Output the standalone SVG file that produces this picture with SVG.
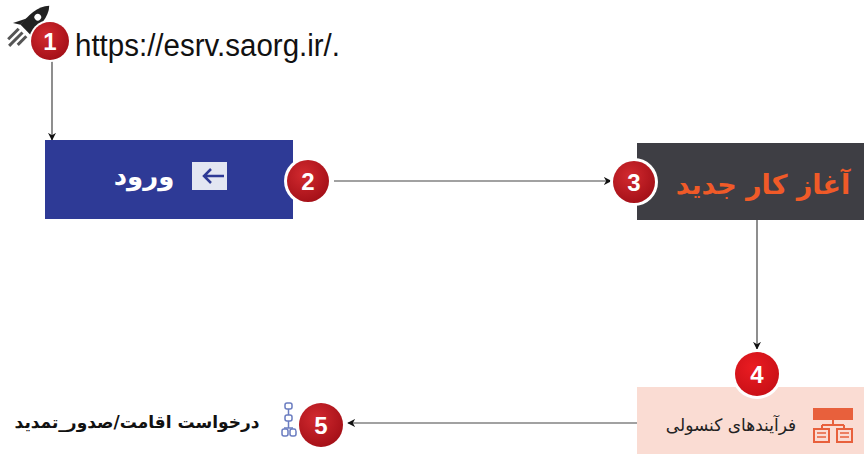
<svg xmlns="http://www.w3.org/2000/svg" width="864" height="464" viewBox="0 0 864 464">
<style>
.conn{stroke:#444;stroke-width:1.2;fill:none}
.num{font-family:"Liberation Sans",Arial,sans-serif;font-weight:bold;font-size:24px;fill:#fff;text-anchor:middle}
.ar{font-family:"DejaVu Sans",sans-serif;text-anchor:middle}
</style>
<defs>
<marker id="ah" viewBox="0 0 10 10" refX="9" refY="5" markerWidth="8" markerHeight="8" orient="auto" markerUnits="userSpaceOnUse">
<path d="M0,0 L10,5 L0,10 L3,5 Z" fill="#111"/>
</marker>
<radialGradient id="rg" cx="0.4" cy="0.35" r="0.7">
<stop offset="0" stop-color="#d22a2f"/>
<stop offset="1" stop-color="#a30f17"/>
</radialGradient>
<radialGradient id="rg4" cx="0.4" cy="0.35" r="0.7">
<stop offset="0" stop-color="#ea1c22"/>
<stop offset="1" stop-color="#c80f16"/>
</radialGradient>
</defs>
<rect width="864" height="464" fill="#fff"/>

<g id="connectors">
<line class="conn" x1="52" y1="60" x2="52" y2="140" marker-end="url(#ah)"/>
<line class="conn" x1="334" y1="181" x2="611" y2="181" marker-end="url(#ah)"/>
<line class="conn" x1="757" y1="220" x2="757" y2="349" marker-end="url(#ah)"/>
<line class="conn" x1="637" y1="423" x2="348" y2="423" marker-end="url(#ah)"/>
</g>

<g id="node1">
<g transform="translate(33,22) rotate(45) scale(1.35)">
<line x1="-4" y1="11" x2="-4" y2="22" stroke="#555" stroke-width="2.2"/>
<line x1="0" y1="11" x2="0" y2="25" stroke="#555" stroke-width="2.2"/>
<line x1="4" y1="11" x2="4" y2="20" stroke="#555" stroke-width="2.2"/>
<path d="M0,-17 C6,-11 6,0 5,8 L-5,8 C-6,0 -6,-11 0,-17 Z" fill="#222"/>
<path d="M-5,1 L-10,11 L-5,8 Z M5,1 L10,11 L5,8 Z" fill="#222"/>
<circle cx="0" cy="-5" r="2.5" fill="#fff"/>
</g>
<circle cx="50" cy="41" r="21" fill="#fff"/>
<circle cx="50" cy="41" r="19" fill="url(#rg)"/>
<text class="num" x="50" y="50">1</text>
<text x="75" y="56" font-family="Liberation Sans,Arial,sans-serif" font-size="31" fill="#111" textLength="265" lengthAdjust="spacingAndGlyphs">https://esrv.saorg.ir/.</text>
</g>

<g id="node2">
<rect x="45" y="140" width="248" height="79" fill="#2e3a96"/>
<rect x="192" y="162" width="35" height="28" fill="#e3e6f2"/>
<path d="M224,176 H204 M211,169 L204,176 L211,183" stroke="#2e3a96" stroke-width="2.5" fill="none"/>
<text class="ar" x="144" y="185" font-size="26" font-weight="bold" fill="#fff">ورود</text>
<circle cx="308" cy="181" r="24" fill="#fff"/>
<circle cx="308" cy="181" r="21" fill="url(#rg)"/>
<text class="num" x="308" y="190">2</text>
</g>

<g id="node3">
<rect x="637" y="143" width="227" height="77" fill="#3e3e44"/>
<text class="ar" x="763" y="194" font-size="27" font-weight="bold" fill="#f05a28">آغاز کار جدید</text>
<circle cx="634" cy="182" r="24" fill="#fff"/>
<circle cx="634" cy="182" r="21" fill="url(#rg)"/>
<text class="num" x="634" y="191">3</text>
</g>

<g id="node4">
<rect x="637" y="387" width="227" height="67" fill="#fadcd3"/>
<text class="ar" x="731" y="431" font-size="17" fill="#222">فرآیندهای کنسولی</text>
<g fill="none" stroke="#e8603c" stroke-width="2">
<rect x="814" y="409" width="38" height="10" fill="#e8603c"/>
<path d="M833,419 V425 M822,425 H844 M822,425 V429 M844,425 V429"/>
<rect x="814" y="429" width="15" height="13"/>
<rect x="837" y="429" width="15" height="13"/>
<path d="M817,433 H826 M817,437 H826 M840,433 H849 M840,437 H849" stroke-width="1.5"/>
</g>
<circle cx="757" cy="374" r="25" fill="#fff"/>
<circle cx="757" cy="374" r="22" fill="url(#rg4)"/>
<text class="num" x="757" y="383">4</text>
</g>

<g id="node5">
<text class="ar" x="137" y="428" font-size="17" font-weight="bold" fill="#111">درخواست اقامت/صدور_تمدید</text>
<g fill="none" stroke="#6a7cc0" stroke-width="1.5">
<rect x="285" y="403" width="7" height="6" rx="2"/>
<rect x="285" y="415" width="7" height="6" rx="2"/>
<path d="M288.5,409 V415 M288.5,421 V428 M284,428 H293"/>
<rect x="282" y="429" width="6" height="7" rx="2"/>
<rect x="290" y="429" width="6" height="7" rx="2"/>
</g>
<circle cx="321" cy="425" r="25" fill="#fff"/>
<circle cx="321" cy="425" r="22" fill="url(#rg)"/>
<text class="num" x="321" y="434">5</text>
</g>
</svg>
